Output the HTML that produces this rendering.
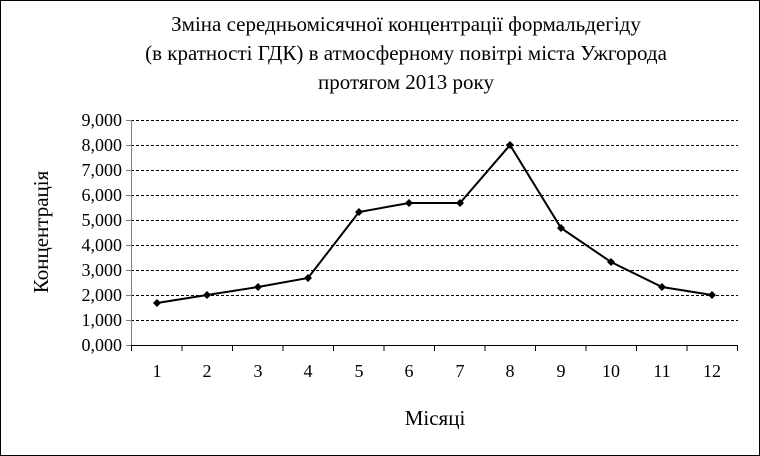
<!DOCTYPE html>
<html><head><meta charset="utf-8"><style>body{margin:0;background:#fff}svg{display:block}</style></head><body>
<svg width="760" height="456" xmlns="http://www.w3.org/2000/svg" font-family="Liberation Serif, serif">
<rect x="0.5" y="0.5" width="759" height="455" fill="#fff" stroke="#000"/>
<g font-size="21" text-anchor="middle" fill="#000">
<text x="406" y="31">Зміна середньомісячної концентрації формальдегіду</text>
<text x="406" y="60">(в кратності ГДК) в атмосферному повітрі міста Ужгорода</text>
<text x="406" y="89">протягом 2013 року</text>
</g>
<g stroke="#000" stroke-width="1" stroke-dasharray="3,2">
<line x1="131" y1="120.5" x2="738" y2="120.5"/><line x1="131" y1="145.5" x2="738" y2="145.5"/>
<line x1="131" y1="170.5" x2="738" y2="170.5"/><line x1="131" y1="195.5" x2="738" y2="195.5"/>
<line x1="131" y1="220.5" x2="738" y2="220.5"/><line x1="131" y1="245.5" x2="738" y2="245.5"/>
<line x1="131" y1="270.5" x2="738" y2="270.5"/><line x1="131" y1="295.5" x2="738" y2="295.5"/>
<line x1="131" y1="320.5" x2="738" y2="320.5"/>
</g>
<g stroke="#808080"><line x1="131.5" y1="120" x2="131.5" y2="345"/>
<line x1="126" y1="120.5" x2="131" y2="120.5"/><line x1="126" y1="145.5" x2="131" y2="145.5"/><line x1="126" y1="170.5" x2="131" y2="170.5"/><line x1="126" y1="195.5" x2="131" y2="195.5"/><line x1="126" y1="220.5" x2="131" y2="220.5"/><line x1="126" y1="245.5" x2="131" y2="245.5"/><line x1="126" y1="270.5" x2="131" y2="270.5"/><line x1="126" y1="295.5" x2="131" y2="295.5"/><line x1="126" y1="320.5" x2="131" y2="320.5"/><line x1="126" y1="345.5" x2="131" y2="345.5"/></g>
<g stroke="#000"><line x1="131" y1="345.5" x2="738" y2="345.5"/>
<path d="M131.5 345v6M182 345v6M232.5 345v6M283 345v6M333.5 345v6M384 345v6M434.5 345v6M485 345v6M535.5 345v6M586 345v6M636.5 345v6M687 345v6M737.5 345v6"/></g>
<g font-size="18" text-anchor="end">
<text x="122" y="126">9,000</text><text x="122" y="151">8,000</text><text x="122" y="176">7,000</text><text x="122" y="201">6,000</text><text x="122" y="226">5,000</text><text x="122" y="251">4,000</text><text x="122" y="276">3,000</text><text x="122" y="301">2,000</text><text x="122" y="326">1,000</text><text x="122" y="351">0,000</text>
</g>
<g font-size="18" text-anchor="middle">
<text x="157" y="377">1</text><text x="207" y="377">2</text><text x="258" y="377">3</text><text x="308" y="377">4</text><text x="359" y="377">5</text><text x="409" y="377">6</text><text x="460" y="377">7</text><text x="510" y="377">8</text><text x="561" y="377">9</text><text x="611" y="377">10</text><text x="662" y="377">11</text><text x="712" y="377">12</text>
</g>
<text x="435" y="425" font-size="21" text-anchor="middle">Місяці</text>
<text transform="translate(48,232) rotate(-90)" font-size="21" text-anchor="middle">Концентрація</text>
<polyline fill="none" stroke="#000" stroke-width="2" points="157,303 207,295 258,287 308,278 359,212 409,203 460,203 510,145 561,228 611,262 662,287 712,295"/>
<g fill="#000">
<path d="M157 299l4 4-4 4-4-4z"/><path d="M207 291l4 4-4 4-4-4z"/><path d="M258 283l4 4-4 4-4-4z"/><path d="M308 274l4 4-4 4-4-4z"/><path d="M359 208l4 4-4 4-4-4z"/><path d="M409 199l4 4-4 4-4-4z"/><path d="M460 199l4 4-4 4-4-4z"/><path d="M510 141l4 4-4 4-4-4z"/><path d="M561 224l4 4-4 4-4-4z"/><path d="M611 258l4 4-4 4-4-4z"/><path d="M662 283l4 4-4 4-4-4z"/><path d="M712 291l4 4-4 4-4-4z"/>
</g>
</svg>
</body></html>
